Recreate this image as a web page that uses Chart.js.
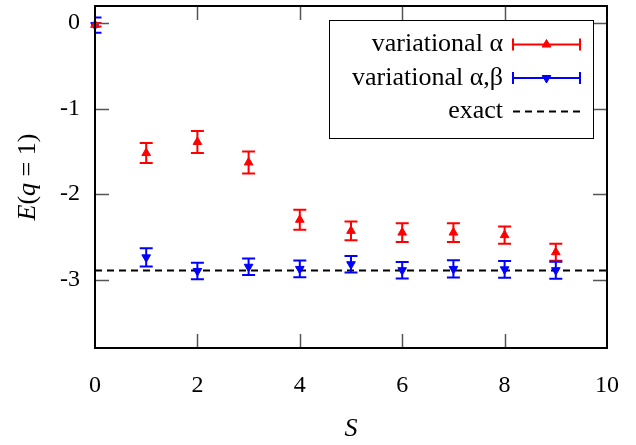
<!DOCTYPE html>
<html><head><meta charset="utf-8">
<script src="https://cdn.jsdelivr.net/npm/chart.js@4.4.0/dist/chart.umd.min.js"></script>
<style>html,body{margin:0;padding:0;background:#fff;}</style>
</head><body>
<canvas id="c" width="636" height="445"></canvas>
<script>
// ---- data ----
const S = [0, 1, 2, 3, 4, 5, 6, 7, 8, 9];
const alphaE   = [-0.02, -1.52, -1.39, -1.63, -2.30, -2.43, -2.45, -2.45, -2.48, -2.68];
const alphaErr = [0.02, 0.117, 0.128, 0.128, 0.117, 0.11, 0.11, 0.11, 0.10, 0.10];
const alphaBetaE   = [-0.024, -2.74, -2.90, -2.85, -2.875, -2.82, -2.89, -2.875, -2.88, -2.89];
const alphaBetaErr = [0.09, 0.107, 0.097, 0.097, 0.097, 0.097, 0.097, 0.10, 0.097, 0.10];
const exactE = -2.895;
const xRange = [0, 10];
const yRange = [-3.8, 0.2];
const xTicks = [0, 2, 4, 6, 8, 10];
const yTicks = [0, -1, -2, -3];
const seriesLabels = ['variational α', 'variational α,β', 'exact'];
const xTitle = 'S';
// y title pieces: [text, italic?]
const yTitleParts = [['E', true], ['(', false], ['q', true], [' = 1)', false]];

const FONT = "Liberation Serif";
const RED = '#ff0000', BLUE = '#0000ff';

const errorBarPlugin = {
  id: 'errorBars',
  afterDatasetsDraw(chart) {
    const ctx = chart.ctx, ca = chart.chartArea;
    const xs = chart.scales.x, ys = chart.scales.y;
    ctx.save();
    ctx.beginPath();
    ctx.rect(ca.left, ca.top, ca.right - ca.left, ca.bottom - ca.top);
    ctx.clip();
    chart.data.datasets.forEach(ds => {
      if (!ds.errors) return;
      ctx.strokeStyle = ds.borderColor;
      ctx.lineWidth = 2;
      ds.data.forEach((p, i) => {
        const e = ds.errors[i];
        const px = xs.getPixelForValue(p.x);
        const y1 = ys.getPixelForValue(p.y + e);
        const y2 = ys.getPixelForValue(p.y - e);
        const cw = 6.5;
        ctx.beginPath();
        ctx.moveTo(px, y1); ctx.lineTo(px, y2);
        ctx.moveTo(px - cw, y1); ctx.lineTo(px + cw, y1);
        ctx.moveTo(px - cw, y2); ctx.lineTo(px + cw, y2);
        ctx.stroke();
      });
    });
    ctx.restore();
  }
};

const framePlugin = {
  id: 'frameTicks',
  afterDraw(chart) {
    const ctx = chart.ctx, ca = chart.chartArea;
    const xs = chart.scales.x, ys = chart.scales.y;
    const tl = 14;
    ctx.save();
    ctx.strokeStyle = '#555';
    ctx.lineWidth = 1.5;
    ctx.beginPath();
    xTicks.forEach(v => {
      if (v === xRange[0] || v === xRange[1]) return;
      const px = Math.round(xs.getPixelForValue(v)) + 0.5;
      ctx.moveTo(px, ca.bottom); ctx.lineTo(px, ca.bottom - tl);
      ctx.moveTo(px, ca.top); ctx.lineTo(px, ca.top + tl);
    });
    yTicks.forEach(v => {
      const py = Math.round(ys.getPixelForValue(v)) + 0.5;
      ctx.moveTo(ca.left, py); ctx.lineTo(ca.left + tl, py);
      ctx.moveTo(ca.right, py); ctx.lineTo(ca.right - tl, py);
    });
    ctx.stroke();
    ctx.strokeStyle = '#000';
    ctx.lineWidth = 2;
    ctx.strokeRect(ca.left, ca.top, ca.right - ca.left, ca.bottom - ca.top);

    // y-axis title with mixed italic / roman pieces
    const fontFor = it => (it ? 'italic ' : '') + '26px ' + FONT;
    let total = 0;
    yTitleParts.forEach(([t, it]) => { ctx.font = fontFor(it); total += ctx.measureText(t).width; });
    ctx.save();
    ctx.translate(28, (ca.top + ca.bottom) / 2);
    ctx.rotate(-Math.PI / 2);
    ctx.fillStyle = '#000';
    ctx.textAlign = 'left';
    ctx.textBaseline = 'middle';
    let cx = -total / 2;
    yTitleParts.forEach(([t, it]) => { ctx.font = fontFor(it); ctx.fillText(t, cx, 0); cx += ctx.measureText(t).width; });
    ctx.restore();

    // legend (gnuplot style key)
    const bx1 = ca.right - 278, by1 = ca.top + 14, bx2 = ca.right - 14, by2 = ca.top + 132;
    ctx.fillStyle = '#fff';
    ctx.fillRect(bx1, by1, bx2 - bx1, by2 - by1);
    ctx.lineWidth = 1;
    ctx.strokeStyle = '#000';
    ctx.strokeRect(bx1 + 0.5, by1 + 0.5, bx2 - bx1, by2 - by1);
    ctx.font = '26px ' + FONT;
    ctx.textAlign = 'right';
    ctx.textBaseline = 'alphabetic';
    const textX = bx1 + 174, s1 = bx1 + 184, s2 = bx1 + 251;
    chart.data.datasets.forEach((ds, i) => {
      const ry = by1 + 24.5 + i * 33.5;
      ctx.fillStyle = '#000';
      ctx.fillText(ds.label, textX, ry + 6.5);
      ctx.strokeStyle = ds.borderColor;
      ctx.fillStyle = ds.borderColor;
      ctx.lineWidth = 2;
      if (ds.errors) {
        ctx.setLineDash([]);
        ctx.beginPath();
        ctx.moveTo(s1, ry); ctx.lineTo(s2, ry);
        ctx.moveTo(s1, ry - 6); ctx.lineTo(s1, ry + 6);
        ctx.moveTo(s2, ry - 6); ctx.lineTo(s2, ry + 6);
        ctx.stroke();
        ctx.lineWidth = 1;
        Chart.helpers.drawPoint(ctx, {pointStyle: 'triangle', rotation: ds.pointRotation || 0, radius: 5, borderWidth: 1}, (s1 + s2) / 2, ry);
      } else {
        ctx.setLineDash(ds.borderDash);
        ctx.beginPath();
        ctx.moveTo(s1, ry); ctx.lineTo(s2, ry);
        ctx.stroke();
        ctx.setLineDash([]);
      }
    });
    ctx.restore();
  }
};

new Chart(document.getElementById('c'), {
  type: 'scatter',
  data: {
    datasets: [
      {
        label: seriesLabels[0],
        data: S.map((s, i) => ({x: s, y: alphaE[i]})),
        errors: alphaErr,
        borderColor: RED, backgroundColor: RED,
        pointStyle: 'triangle', pointRadius: 5, pointBorderWidth: 1, pointRotation: 0,
        showLine: false, clip: false
      },
      {
        label: seriesLabels[1],
        data: S.map((s, i) => ({x: s, y: alphaBetaE[i]})),
        errors: alphaBetaErr,
        borderColor: BLUE, backgroundColor: BLUE,
        pointStyle: 'triangle', pointRadius: 5, pointBorderWidth: 1, pointRotation: 180,
        showLine: false, clip: false
      },
      {
        label: seriesLabels[2],
        type: 'line',
        data: xRange.map(x => ({x: x, y: exactE})),
        borderColor: '#000', borderWidth: 2, borderDash: [7, 5],
        pointRadius: 0, fill: false, showLine: true
      }
    ]
  },
  options: {
    responsive: false,
    animation: false,
    layout: {padding: {top: 5, right: 29, left: 0, bottom: 0}},
    plugins: {legend: {display: false}, tooltip: {enabled: false}},
    scales: {
      x: {
        type: 'linear', min: xRange[0], max: xRange[1],
        afterBuildTicks: s => { s.ticks = xTicks.map(v => ({value: v})); },
        afterFit: s => { s.height = 97; s.paddingLeft = 0; s.paddingRight = 0; },
        ticks: {font: {family: FONT, size: 24}, color: '#000', padding: 23, maxRotation: 0, autoSkip: false, callback: v => String(v)},
        grid: {display: false, drawTicks: false},
        border: {display: false},
        title: {display: true, text: xTitle, font: {family: FONT, size: 26, style: 'italic'}, color: '#000', padding: 0}
      },
      y: {
        type: 'linear', min: yRange[0], max: yRange[1],
        afterBuildTicks: s => { s.ticks = yTicks.map(v => ({value: v})); },
        afterFit: s => { s.width = 95; s.paddingTop = 0; s.paddingBottom = 0; },
        ticks: {font: {family: FONT, size: 24}, color: '#000', padding: 15, autoSkip: false, callback: v => String(v)},
        grid: {display: false, drawTicks: false},
        border: {display: false},
        title: {display: false}
      }
    }
  },
  plugins: [errorBarPlugin, framePlugin]
});
</script>
</body></html>
